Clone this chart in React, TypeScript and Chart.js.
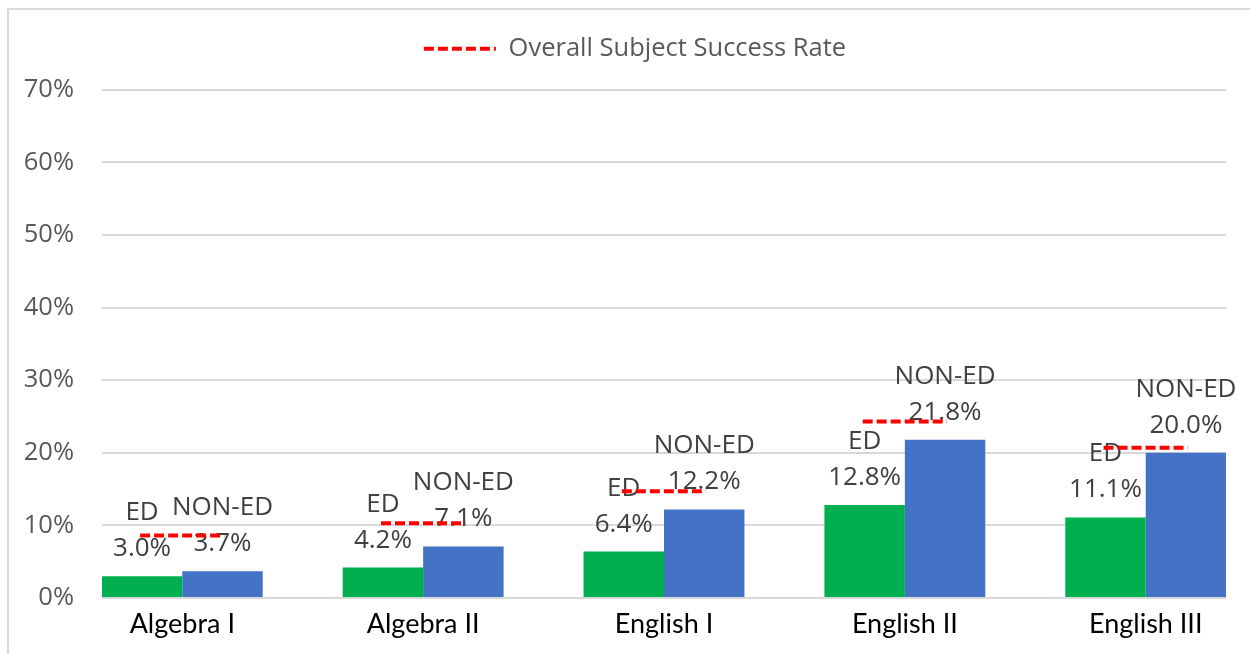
import React, { useEffect, useRef } from 'react';
import { Chart, registerables } from 'chart.js';

Chart.register(...registerables);

const categories = ['Algebra I', 'Algebra II', 'English I', 'English II', 'English III'];
const edRates = [3.0, 4.2, 6.4, 12.8, 11.1];
const nonEdRates = [3.7, 7.1, 12.2, 21.8, 20.0];
const overallRates = [8.6, 10.3, 14.7, 24.3, 20.7];
const seriesNames = ['ED', 'NON-ED'];
const overallName = 'Overall Subject Success Rate';
const yTickValues = [0, 10, 20, 30, 40, 50, 60, 70];

const SEG_HALF = 0.175;

const barLabelPlugin = {
  id: 'barLabels',
  afterDatasetDraw(chart: any, args: any) {
    const ds = chart.data.datasets[args.index];
    if (!ds.labelName) return;
    const ctx = chart.ctx;
    const meta = chart.getDatasetMeta(args.index);
    ctx.save();
    ctx.font = '26px "Open Sans"';
    ctx.fillStyle = '#404040';
    ctx.textAlign = 'center';
    ctx.textBaseline = 'alphabetic';
    meta.data.forEach((el: any, i: number) => {
      const v = ds.data[i].y;
      const base = el.y - 20;
      ctx.fillText(v.toFixed(1) + '%', el.x, base);
      ctx.fillText(ds.labelName, el.x, base - 36);
    });
    ctx.restore();
  },
};

const legendShiftPlugin = {
  id: 'legendShift',
  afterLayout(chart: any) {
    if (chart.legend) chart.legend.left += 36;
  },
};

export default function App() {
  const ref = useRef<HTMLCanvasElement>(null);
  useEffect(() => {
    if (!ref.current) return;
    const lineData: any[] = [];
    overallRates.forEach((v, i) => {
      lineData.push({ x: i - SEG_HALF, y: v });
      lineData.push({ x: i + SEG_HALF, y: v });
      lineData.push({ x: i + 0.5, y: null });
    });
    const chart = new Chart(ref.current, {
      type: 'bar',
      data: {
        datasets: [
          {
            type: 'line',
            label: overallName,
            data: lineData,
            borderColor: '#FF0000',
            backgroundColor: '#FF0000',
            borderWidth: 4,
            borderDash: [10, 4],
            pointRadius: 0,
            spanGaps: false,
            order: 0,
          } as any,
          {
            label: seriesNames[0],
            labelName: seriesNames[0],
            data: edRates.map((v, i) => ({ x: i, y: v })),
            backgroundColor: '#00B050',
            order: 1,
          } as any,
          {
            label: seriesNames[1],
            labelName: seriesNames[1],
            data: nonEdRates.map((v, i) => ({ x: i, y: v })),
            backgroundColor: '#4472C4',
            order: 1,
          } as any,
        ],
      },
      options: {
        animation: false,
        responsive: false,
        devicePixelRatio: 1,
        layout: { padding: { left: 0, right: 24, top: 17, bottom: 0 } },
        datasets: { bar: { barPercentage: 1, categoryPercentage: 0.668 } } as any,
        scales: {
          x: {
            type: 'linear',
            min: -1 / 3,
            max: 4 + 1 / 3,
            offset: false,
            grid: { display: false, offset: false },
            border: { display: false },
            afterBuildTicks: (scale: any) => {
              scale.ticks = categories.map((_, i) => ({ value: i }));
            },
            afterFit: (scale: any) => {
              scale.height = 56;
            },
            ticks: {
              autoSkip: false,
              maxRotation: 0,
              padding: 2,
              color: '#000000',
              font: { family: 'Lato', size: 27 },
              callback: (v: any) => categories[v] ?? '',
            },
          },
          y: {
            min: 0,
            max: 70,
            afterBuildTicks: (scale: any) => {
              scale.ticks = yTickValues.map((v) => ({ value: v }));
            },
            afterFit: (scale: any) => {
              scale.width = 94;
            },
            grid: { color: '#D9D9D9', lineWidth: 2, drawTicks: false },
            border: { display: false },
            ticks: {
              padding: 28,
              color: '#595959',
              font: { family: 'Open Sans', size: 25.5 },
              callback: (v: any) => v + '%',
            },
          },
        },
        plugins: {
          tooltip: { enabled: false },
          title: {
            display: true,
            text: '',
            weight: 500,
            font: { size: 1 },
            padding: { top: 0, bottom: 17 },
          } as any,
          legend: {
            display: true,
            position: 'top',
            weight: 1000,
            labels: {
              usePointStyle: true,
              pointStyle: 'line',
              pointStyleWidth: 72,
              padding: 10,
              color: '#595959',
              font: { family: 'Open Sans', size: 25.5 },
              generateLabels: (c: any) =>
                Chart.defaults.plugins.legend.labels
                  .generateLabels(c)
                  .filter((it: any) => it.datasetIndex === 0)
                  .map((it: any) => ({
                    ...it,
                    lineDash: c.data.datasets[it.datasetIndex].borderDash,
                    lineWidth: c.data.datasets[it.datasetIndex].borderWidth,
                    strokeStyle: c.data.datasets[it.datasetIndex].borderColor,
                  })),
            },
          } as any,
        },
      },
      plugins: [barLabelPlugin, legendShiftPlugin],
    });
    return () => chart.destroy();
  }, []);

  return (
    <div>
      <div
        style={{
          position: 'fixed',
          left: 7,
          top: 8,
          width: 1400,
          height: 800,
          borderTop: '2px solid #D9D9D9',
          borderLeft: '2px solid #D9D9D9',
          boxSizing: 'border-box',
        }}
      />
      <canvas
        ref={ref}
        width={1242}
        height={645}
        style={{ position: 'fixed', left: 8, top: 9, width: 1242, height: 645 }}
      />
    </div>
  );
}
